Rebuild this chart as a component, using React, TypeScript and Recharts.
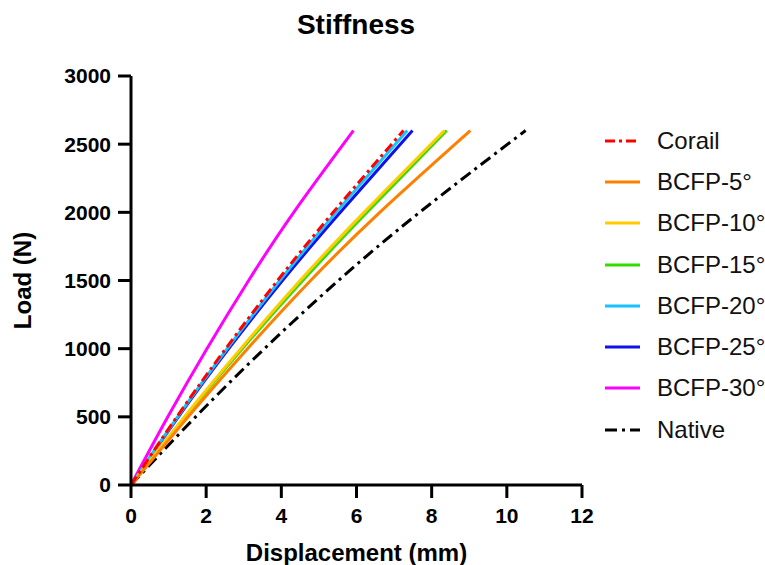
import { LineChart, Line, XAxis, YAxis, Legend, Label } from "recharts";

const FONT = "'Liberation Sans', Arial, Helvetica, sans-serif";

// load levels (N) shared by every curve
const loads = [0, 500, 1000, 1500, 2000, 2600];

// displacement (mm) read at each load level
const corail = [0, 1.22, 2.52, 3.9, 5.38, 7.25];
const bcfp5 = [0, 1.52, 3.1, 4.78, 6.62, 9.03];
const bcfp10 = [0, 1.42, 2.92, 4.5, 6.2, 8.34];
const bcfp15 = [0, 1.44, 2.96, 4.57, 6.28, 8.4];
const bcfp20 = [0, 1.24, 2.56, 3.96, 5.46, 7.35];
const bcfp25 = [0, 1.26, 2.6, 4.03, 5.57, 7.49];
const bcfp30 = [0, 0.98, 2.02, 3.13, 4.33, 5.92];
const native = [0, 1.72, 3.55, 5.52, 7.68, 10.5];

const xTicks = [0, 2, 4, 6, 8, 10, 12];
const yTicks = [0, 500, 1000, 1500, 2000, 2500, 3000];

type Series = { name: string; color: string; dash?: string; disp: number[] };

const series: Series[] = [
  { name: "Corail", color: "#ff0000", dash: "10 4 3 4", disp: corail },
  { name: "BCFP-5°", color: "#ff8000", disp: bcfp5 },
  { name: "BCFP-10°", color: "#ffcc00", disp: bcfp10 },
  { name: "BCFP-15°", color: "#33dd00", disp: bcfp15 },
  { name: "BCFP-20°", color: "#14c4ff", disp: bcfp20 },
  { name: "BCFP-25°", color: "#1010ee", disp: bcfp25 },
  { name: "BCFP-30°", color: "#ff00ff", disp: bcfp30 },
  { name: "Native", color: "#000000", dash: "12 5 3 5", disp: native },
];

const toPoints = (disp: number[]) => loads.map((y, i) => ({ x: disp[i], y }));

function LegendList() {
  return (
    <div style={{ fontFamily: FONT, fontSize: 24, color: "#111", whiteSpace: "nowrap" }}>
      {series.map((s) => (
        <div key={s.name} style={{ display: "flex", alignItems: "center", height: 41.3 }}>
          <svg width={52} height={10} style={{ flexShrink: 0 }}>
            <line x1={0} y1={5} x2={35} y2={5} stroke={s.color} strokeWidth={3} strokeDasharray={s.dash} />
          </svg>
          <span>{s.name}</span>
        </div>
      ))}
    </div>
  );
}

export default function App() {
  const tickStyle = { fontSize: 21, fontWeight: 700, fill: "#000", fontFamily: FONT };
  return (
    <div style={{ position: "absolute", left: 0, top: 0, width: 765, height: 565, background: "#fff", overflow: "hidden" }}>
      <div
        style={{
          position: "absolute",
          left: 0,
          width: 712,
          top: 9,
          textAlign: "center",
          fontFamily: FONT,
          fontWeight: 700,
          fontSize: 28,
          color: "#000",
        }}
      >
        Stiffness
      </div>
      <LineChart width={765} height={565} margin={{ top: 76, right: 183, bottom: 0, left: 0 }}>
        <XAxis
          type="number"
          dataKey="x"
          domain={[0, 12]}
          ticks={xTicks}
          allowDataOverflow
          height={80}
          stroke="#000"
          axisLine={{ stroke: "#000", strokeWidth: 3 }}
          tickLine={{ stroke: "#000", strokeWidth: 3 }}
          tickSize={13}
          tickMargin={10}
          tick={tickStyle}
        >
          <Label
            content={({ viewBox }: any) => (
              <text
                x={viewBox.x + viewBox.width / 2}
                y={viewBox.y + 76}
                textAnchor="middle"
                fontFamily={FONT}
                fontWeight={700}
                fontSize={24}
                fill="#000"
              >
                Displacement (mm)
              </text>
            )}
          />
        </XAxis>
        <YAxis
          type="number"
          dataKey="y"
          domain={[0, 3000]}
          ticks={yTicks}
          width={131}
          stroke="#000"
          axisLine={{ stroke: "#000", strokeWidth: 3 }}
          tickLine={{ stroke: "#000", strokeWidth: 3 }}
          tickSize={13}
          tickMargin={7}
          tick={tickStyle}
        >
          <Label
            content={({ viewBox }: any) => {
              const cx = 31;
              const cy = viewBox.y + viewBox.height / 2;
              return (
                <text
                  x={cx}
                  y={cy}
                  transform={`rotate(-90, ${cx}, ${cy})`}
                  textAnchor="middle"
                  fontFamily={FONT}
                  fontWeight={700}
                  fontSize={24}
                  fill="#000"
                >
                  Load (N)
                </text>
              );
            }}
          />
        </YAxis>
        <Legend
          layout="vertical"
          align="center"
          verticalAlign="middle"
          wrapperStyle={{ left: 605, top: 120, width: 175 }}
          content={() => <LegendList />}
        />
        {[...series].reverse().map((s) => (
          <Line
            key={s.name}
            data={toPoints(s.disp)}
            dataKey="y"
            name={s.name}
            type="natural"
            stroke={s.color}
            strokeWidth={3}
            strokeDasharray={s.dash}
            dot={false}
            activeDot={false}
            isAnimationActive={false}
          />
        ))}
      </LineChart>
    </div>
  );
}
